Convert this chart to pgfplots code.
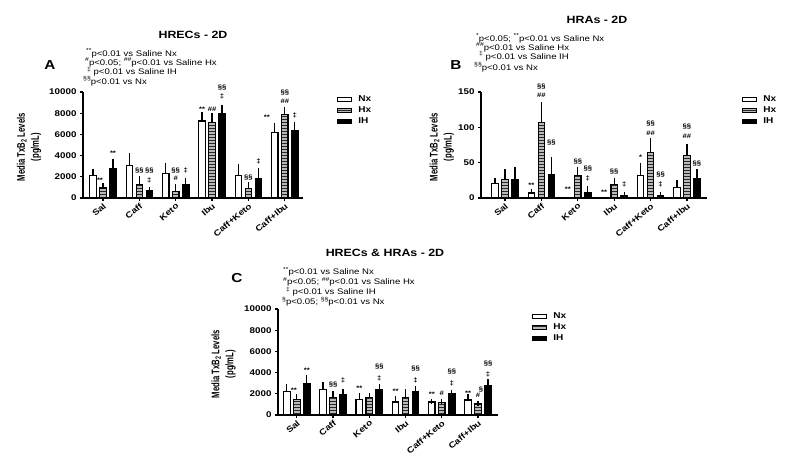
\documentclass[border=0pt]{standalone}
\usepackage{pgfplots}
\pgfplotsset{compat=1.18}
\usetikzlibrary{patterns}
\usepackage{fontspec}
\setmainfont{Liberation Sans}[FakeStretch=1.18]
\newfontfamily\narrowfont{Liberation Sans}[FakeStretch=0.7]

% significance marks above the bars: group, shift, height, text
\newcommand{\ann}[4]{\node[font=\bfseries\fontsize{6.5}{7}\selectfont, inner sep=0pt] at ([xshift=#2]axis cs:#1,#3) {#4};}
\newcommand{\note}[3]{\node[anchor=base west, inner sep=0pt, font=\fontsize{8.1}{10}\selectfont] at (#1pt,-#2pt) {#3};}
\newcommand{\supmark}[1]{\raisebox{0.38em}{\fontsize{5.8}{6}\selectfont #1}}

\pgfplotsset{
  panel/.style={
    scale only axis, height=106pt,
    anchor=south west, clip=false,
    axis x line*=bottom, axis y line*=left,
    axis line style={line width=1.4pt},
    ymin=0,
    xtick={0,...,5},
    xticklabels={Sal,Caff,Keto,Ibu,Caff+Keto,Caff+Ibu},
    xticklabel style={rotate=40, anchor=north east, inner sep=1pt,
      font=\bfseries\fontsize{8.3}{9}\selectfont},
    yticklabel style={font=\bfseries\fontsize{8.3}{9}\selectfont,
      /pgf/number format/assume math mode=true,
      /pgf/number format/1000 sep={}},
    scaled y ticks=false,
    tick align=outside, major tick length=3pt,
    tick style={black, line width=1.2pt},
    ylabel={Media TxB\textsubscript{2} Levels\\(pg/mL)},
    ylabel style={align=center, anchor=center,
      font=\narrowfont\bfseries\fontsize{11}{14}\selectfont},
    ybar=3.5pt, bar width=6.5pt,
    error bars/y dir=plus, error bars/y explicit,
    error bars/error bar style={line width=1.2pt, black},
    error bars/error mark options={line width=1.2pt, black, mark size=2.5pt},
    legend style={anchor=north west, draw=none, fill=none, inner sep=0pt,
      font=\bfseries\fontsize{8.5}{9}\selectfont, row sep=1.6pt,
      nodes={inner sep=1pt},
      /tikz/every odd column/.append style={column sep=5pt}},
    legend cell align=left,
    legend image code/.code={\draw[#1, line width=1.1pt] (0pt,-2.2pt) rectangle (14pt,2.2pt);},
  },
  nx/.style={fill=white, draw=black, line width=1.2pt},
  hx/.style={fill=gray!55, draw=black, line width=1.2pt,
    postaction={pattern=horizontal lines, pattern color=gray!30!black}},
  ih/.style={fill=black, draw=black, line width=1.2pt},
}

\begin{document}
\begin{tikzpicture}
\path[use as bounding box] (0pt,0pt) rectangle (800pt,-471pt);

% ---------------- A: HRECs ----------------
\begin{axis}[panel, at={(83pt,-198pt)}, width=220pt,
  xmin=-0.55, xmax=5.5, ymax=10000, ytick={0,2000,...,10000},
  ylabel style={at={(axis description cs:-0.245,0.48)}},
  legend style={at={(1.155,0.975)}}]
\addplot[nx] coordinates {(0,2090) +- (0,440) (1,3070) +- (0,940) (2,2300) +- (0,730)
  (3,7270) +- (0,570) (4,2150) +- (0,850) (5,6200) +- (0,600)};
\addplot[hx] coordinates {(0,950) +- (0,220) (1,1300) +- (0,500) (2,600) +- (0,500)
  (3,7110) +- (0,660) (4,870) +- (0,380) (5,7870) +- (0,500)};
\addplot[ih] coordinates {(0,2780) +- (0,630) (1,700) +- (0,120) (2,1300) +- (0,370)
  (3,8000) +- (0,530) (4,1860) +- (0,760) (5,6350) +- (0,600)};
\legend{Nx,Hx,IH}
\ann{0}{-3pt}{1650}{**}
\ann{0}{10pt}{4200}{**}
\ann{1}{0pt}{2550}{§§}
\ann{1}{10pt}{2550}{§§}
\ann{1}{10pt}{1700}{‡}
\ann{2}{0pt}{2600}{§§}
\ann{2}{0pt}{1880}{\#}
\ann{2}{10pt}{2600}{‡}
\ann{3}{-10pt}{8350}{**}
\ann{3}{0pt}{8350}{\#\#}
\ann{3}{10pt}{10450}{§§}
\ann{3}{10pt}{9550}{‡}
\ann{4}{0pt}{1900}{§§}
\ann{4}{10pt}{3500}{‡}
\ann{5}{-18pt}{7600}{**}
\ann{5}{0pt}{9900}{§§}
\ann{5}{0pt}{9150}{\#\#}
\ann{5}{10pt}{7750}{‡}
\end{axis}
\node[font=\bfseries\fontsize{10.5}{12}\selectfont] at (193pt,-35pt) {HRECs - 2D};
\node[font=\bfseries\fontsize{13}{14}\selectfont] at (50pt,-65pt) {A};
\note{86}{56}{\supmark{**}p<0.01 vs Saline Nx}
\note{85}{65}{\supmark{\#}p<0.05; \supmark{\#\#}p<0.01 vs Saline Hx}
\note{87}{74.5}{\supmark{‡} p<0.01 vs Saline IH}
\note{83}{84}{\supmark{§§}p<0.01 vs Nx}

% ---------------- B: HRAs ----------------
\begin{axis}[panel, at={(481pt,-198pt)}, width=226pt,
  xmin=-0.66, xmax=5.55, ymax=150, ytick={0,50,100,150},
  ylabel style={at={(axis description cs:-0.173,0.48)}},
  legend style={at={(1.155,0.975)}}]
\addplot[nx] coordinates {(0,20) +- (0,5) (1,7) +- (0,2)
  (4,32) +- (0,14) (5,15) +- (0,7)};
\addplot[hx] coordinates {(0,26) +- (0,12) (1,107) +- (0,26) (2,32) +- (0,9)
  (3,19) +- (0,6) (4,64) +- (0,17) (5,60) +- (0,13)};
\addplot[ih] coordinates {(0,26) +- (0,15) (1,33) +- (0,21) (2,7) +- (0,6)
  (3,3) +- (0,2) (4,3) +- (0,2) (5,27) +- (0,10)};
\legend{Nx,Hx,IH}
\ann{1}{-10pt}{18}{**}
\ann{1}{0pt}{158}{§§}
\ann{1}{0pt}{145}{\#\#}
\ann{1}{10pt}{79}{§§}
\ann{2}{-10pt}{13}{**}
\ann{2}{0pt}{51}{§§}
\ann{2}{10pt}{41}{§§}
\ann{2}{10pt}{28}{‡}
\ann{3}{-10pt}{8}{**}
\ann{3}{0pt}{37}{§§}
\ann{3}{10pt}{19}{‡}
\ann{4}{-10pt}{57}{*}
\ann{4}{0pt}{105}{§§}
\ann{4}{0pt}{91}{\#\#}
\ann{4}{10pt}{33}{§§}
\ann{4}{10pt}{19}{‡}
\ann{5}{0pt}{101}{§§}
\ann{5}{0pt}{87}{\#\#}
\ann{5}{10pt}{49}{§§}
\end{axis}
\node[font=\bfseries\fontsize{10.5}{12}\selectfont] at (597pt,-20pt) {HRAs - 2D};
\node[font=\bfseries\fontsize{13}{14}\selectfont] at (456pt,-65pt) {B};
\note{476}{41}{\supmark{*}p<0.05; \supmark{**}p<0.01 vs Saline Nx}
\note{476}{50}{\supmark{\#\#}p<0.01 vs Saline Hx}
\note{479}{59}{\supmark{‡} p<0.01 vs Saline IH}
\note{474}{70}{\supmark{§§}p<0.01 vs Nx}

% ---------------- C: HRECs & HRAs ----------------
\begin{axis}[panel, at={(278pt,-415pt)}, width=220pt,
  xmin=-0.52, xmax=5.55, ymax=10000, ytick={0,2000,...,10000},
  ylabel style={at={(axis description cs:-0.248,0.48)}},
  legend style={at={(1.155,0.975)}}]
\addplot[nx] coordinates {(0,2200) +- (0,480) (1,2390) +- (0,450) (2,1450) +- (0,410)
  (3,1230) +- (0,345) (4,1230) +- (0,60) (5,1420) +- (0,280)};
\addplot[hx] coordinates {(0,1480) +- (0,250) (1,1670) +- (0,320) (2,1670) +- (0,190)
  (3,1640) +- (0,560) (4,1200) +- (0,90) (5,1040) +- (0,60)};
\addplot[ih] coordinates {(0,2930) +- (0,570) (1,1920) +- (0,280) (2,2360) +- (0,290)
  (3,2200) +- (0,320) (4,2020) +- (0,90) (5,2800) +- (0,350)};
\legend{Nx,Hx,IH}
\ann{0}{-3pt}{2370}{**}
\ann{0}{10pt}{4260}{**}
\ann{1}{0pt}{2840}{§§}
\ann{1}{10pt}{3310}{‡}
\ann{2}{-10pt}{2520}{**}
\ann{2}{10pt}{4575}{§§}
\ann{2}{10pt}{3470}{‡}
\ann{3}{-10pt}{2210}{**}
\ann{3}{10pt}{4420}{§§}
\ann{3}{10pt}{3310}{‡}
\ann{4}{-10pt}{1950}{**}
\ann{4}{0pt}{2050}{\#}
\ann{4}{10pt}{4100}{§§}
\ann{4}{10pt}{3000}{‡}
\ann{5}{-10pt}{2050}{**}
\ann{5}{0pt}{1890}{\#}
\ann{5}{3pt}{2430}{§}
\ann{5}{10pt}{4890}{§§}
\ann{5}{10pt}{3880}{‡}
\end{axis}
\node[font=\bfseries\fontsize{10.5}{12}\selectfont] at (385pt,-253pt) {HRECs \& HRAs - 2D};
\node[font=\bfseries\fontsize{13}{14}\selectfont] at (237pt,-278pt) {C};
\note{283}{274.5}{\supmark{**}p<0.01 vs Saline Nx}
\note{283}{284.5}{\supmark{\#}p<0.05; \supmark{\#\#}p<0.01 vs Saline Hx}
\note{286}{294.5}{\supmark{‡} p<0.01 vs Saline IH}
\note{282}{304.5}{\supmark{§}p<0.05; \supmark{§§}p<0.01 vs Nx}
\end{tikzpicture}
\end{document}
